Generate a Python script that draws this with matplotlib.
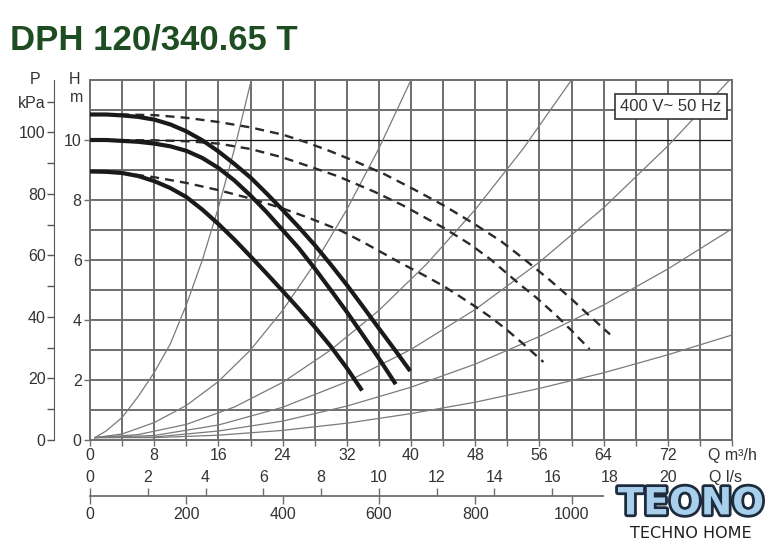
import matplotlib
matplotlib.use("Agg")
import matplotlib.pyplot as plt
import matplotlib.patheffects as pe

plt.rcParams['font.family'] = ['Liberation Sans', 'DejaVu Sans']

# pump curves, solid (Q m3/h, H m)
q_solid_hi = [0, 2, 4, 6, 8, 10, 12, 14, 16, 18, 20, 22, 24, 26, 28, 30, 32, 34, 36, 38, 39.9]
h_solid_hi = [10.85, 10.85, 10.82, 10.77, 10.68, 10.52, 10.29, 9.99, 9.62, 9.2, 8.75, 8.22, 7.67, 7.1, 6.5, 5.85, 5.17, 4.45, 3.72, 3.0, 2.3]
q_solid_mid = [0, 2, 4, 6, 8, 10, 12, 14, 16, 18, 20, 22, 24, 26, 28, 30, 32, 34, 36, 38.1]
h_solid_mid = [10.0, 10.0, 9.97, 9.94, 9.88, 9.79, 9.64, 9.4, 9.07, 8.65, 8.15, 7.6, 7.0, 6.4, 5.72, 5.0, 4.27, 3.5, 2.72, 1.86]
q_solid_lo = [0, 2, 4, 6, 8, 10, 12, 14, 16, 18, 20, 22, 24, 26, 28, 30, 32, 33.9]
h_solid_lo = [8.95, 8.94, 8.9, 8.8, 8.63, 8.4, 8.1, 7.68, 7.2, 6.68, 6.12, 5.55, 4.97, 4.38, 3.77, 3.12, 2.4, 1.65]

# pump curves, dashed
q_dash_hi = [0, 4, 8, 12, 16, 20, 24, 27, 30, 33.3, 36.7, 40.4, 44.2, 47.9, 51.25, 54, 57.3, 60, 62, 64.8]
h_dash_hi = [10.85, 10.85, 10.83, 10.74, 10.6, 10.42, 10.18, 9.92, 9.62, 9.26, 8.86, 8.35, 7.8, 7.2, 6.62, 6.05, 5.33, 4.7, 4.2, 3.52]
q_dash_mid = [0, 8, 12, 16, 20, 24, 27, 30.8, 35.4, 39, 44.2, 47.5, 50, 53.5, 55.6, 58.1, 60, 62.25]
h_dash_mid = [10.0, 9.99, 9.96, 9.88, 9.7, 9.42, 9.15, 8.8, 8.28, 7.82, 7.05, 6.5, 6.0, 5.2, 4.75, 4.15, 3.65, 3.03]
q_dash_lo = [0, 4, 8, 12, 16, 20, 24, 27.5, 31.25, 34, 36.7, 38.5, 41.7, 44, 46, 48, 50, 52, 54, 56.5]
h_dash_lo = [8.95, 8.9, 8.76, 8.57, 8.33, 8.05, 7.72, 7.38, 6.98, 6.6, 6.2, 5.93, 5.48, 5.14, 4.8, 4.45, 4.08, 3.66, 3.2, 2.6]

# system curves (thin grey)
sys_curves = [
    ([0.6, 2, 4, 6, 8, 10, 12, 14, 16, 18, 20.1],
     [0.08, 0.3, 0.75, 1.45, 2.25, 3.2, 4.5, 6.0, 7.75, 9.7, 12.0]),
    ([0.6, 4, 8, 12, 16, 20, 24, 28, 32, 36, 40],
     [0.08, 0.2, 0.58, 1.15, 1.95, 3.0, 4.32, 5.88, 7.68, 9.72, 12.0]),
    ([0.6, 6, 12, 18, 24, 30, 36, 42, 48, 54, 60],
     [0.08, 0.18, 0.52, 1.1, 1.92, 3.0, 4.32, 5.88, 7.68, 9.72, 12.0]),
    ([0.6, 8, 16, 24, 32, 40, 48, 56, 64, 72, 79.7],
     [0.08, 0.15, 0.5, 1.09, 1.94, 3.02, 4.35, 5.93, 7.74, 9.8, 12.0]),
    ([0.6, 8, 16, 24, 32, 40, 48, 56, 64, 72, 80],
     [0.08, 0.1, 0.3, 0.63, 1.13, 1.76, 2.53, 3.45, 4.5, 5.7, 7.04]),
    ([0.6, 8, 16, 24, 32, 40, 48, 56, 64, 72, 80],
     [0.08, 0.08, 0.16, 0.32, 0.56, 0.88, 1.26, 1.72, 2.24, 2.84, 3.5]),
]

q_ticks = list(range(0, 81, 4))
h_ticks = [0, 2, 4, 6, 8, 10]
p_ticks = list(range(0, 111, 10))
ls_ticks = list(range(0, 23, 2))
lmin_ticks = list(range(0, 1001, 200))

GRID = '#6e6e6e'
TXT = '#333333'
W, H = 780, 544


def fx(px):
    return px / W


def fy(py):
    return 1 - py / H


fig = plt.figure(figsize=(7.8, 5.44), dpi=100)
fig.patch.set_facecolor('white')

ax = fig.add_axes([fx(90), fy(440), 642 / W, 360 / H])
ax.set_xlim(0, 80)
ax.set_ylim(0, 12)

# grid
for q in q_ticks[1:-1]:
    ax.axvline(q, color=GRID, lw=1.4, zorder=1)
for h in range(1, 12):
    if h == 10:
        ax.axhline(h, color='#111111', lw=0.9, zorder=1)
    else:
        ax.axhline(h, color=GRID, lw=1.4, zorder=1)
for s in ax.spines.values():
    s.set_color(GRID)
    s.set_linewidth(1.4)

# system curves
for qs, hs in sys_curves:
    ax.plot(qs, hs, color='#7a7a7a', lw=0.9, zorder=2)

dash = (0, (3.8, 2.6))
ax.plot(q_dash_hi, h_dash_hi, color='#2a2a2a', lw=1.7, ls=dash, zorder=3)
ax.plot(q_dash_mid, h_dash_mid, color='#2a2a2a', lw=1.7, ls=dash, zorder=3)
ax.plot(q_dash_lo, h_dash_lo, color='#2a2a2a', lw=1.7, ls=dash, zorder=3)

ax.plot(q_solid_hi, h_solid_hi, color='#1a1a1a', lw=3.0, zorder=4, solid_capstyle='butt')
ax.plot(q_solid_mid, h_solid_mid, color='#1a1a1a', lw=3.0, zorder=4, solid_capstyle='butt')
ax.plot(q_solid_lo, h_solid_lo, color='#1a1a1a', lw=3.0, zorder=4, solid_capstyle='butt')

ax.set_xticks(q_ticks)
ax.set_xticklabels([('Q m³/h' if q == 80 else (str(q) if q % 8 == 0 else '')) for q in q_ticks])
ax.set_yticks(h_ticks)
ax.set_yticklabels([str(h) for h in h_ticks])
ax.tick_params(axis='both', direction='out', length=4, width=1, color=GRID,
               labelsize=11.5, labelcolor=TXT, pad=2)

ax.text(72.4, 11.13, '400 V~ 50 Hz', ha='center', va='center', fontsize=12, color=TXT,
        zorder=6, bbox=dict(boxstyle='square,pad=0.3', fc='white', ec='#333333', lw=1.2))

# pressure axis
axp = fig.add_axes([fx(54), fy(440), 0.0001, 360 / H])
axp.set_ylim(0, 12 * 9.75)
axp.patch.set_visible(False)
for k in ['right', 'top', 'bottom']:
    axp.spines[k].set_visible(False)
axp.spines['left'].set_color('#555555')
axp.set_xticks([])
axp.set_yticks(p_ticks)
axp.set_yticklabels([('kPa' if p == 110 else (str(p) if p % 20 == 0 else '')) for p in p_ticks])
axp.tick_params(axis='y', direction='out', length=5, width=1, color='#555555',
                labelsize=11.5, labelcolor=TXT, pad=1)

fig.text(fx(35), fy(80), 'P', ha='center', va='center', fontsize=11.5, color=TXT)
fig.text(fx(75), fy(80), 'H', ha='center', va='center', fontsize=11.5, color=TXT)
fig.text(fx(77), fy(98), 'm', ha='center', va='center', fontsize=11.5, color=TXT)

# flow axes: l/s above, l/min below
ax_ls = fig.add_axes([fx(90), fy(496), 642 / W, 0.0001])
ax_ls.set_xlim(0, 80 / 3.6)
ax_ls.patch.set_visible(False)
for k in ['left', 'right', 'bottom']:
    ax_ls.spines[k].set_visible(False)
ax_ls.spines['top'].set_color(GRID)
ax_ls.spines['top'].set_linewidth(1.3)
ax_ls.set_yticks([])
ax_ls.xaxis.tick_top()
ax_ls.set_xticks(ls_ticks)
ax_ls.set_xticklabels([('Q l/s' if v == 22 else str(v)) for v in ls_ticks])
ax_ls.tick_params(axis='x', direction='out', length=6, width=1, color=GRID,
                  labelsize=11.5, labelcolor=TXT, pad=2)

ax_lm = fig.add_axes([fx(90), fy(496), 642 / W, 0.0001])
ax_lm.set_xlim(0, 80 * 1000 / 60)
ax_lm.patch.set_visible(False)
for k in ['left', 'right', 'top', 'bottom']:
    ax_lm.spines[k].set_visible(False)
ax_lm.set_yticks([])
ax_lm.set_xticks(lmin_ticks)
ax_lm.set_xticklabels([str(v) for v in lmin_ticks])
ax_lm.tick_params(axis='x', direction='out', length=6, width=1, color=GRID,
                  labelsize=11.5, labelcolor=TXT, pad=2)

# title
fig.text(fx(10), fy(50), 'DPH 120/340.65 T', ha='left', va='baseline', fontsize=25,
         fontweight='bold', color='#1e4d22')

# logo
ax_logo = fig.add_axes([fx(604), fy(542), (778 - 604) / W, (542 - 485) / H], zorder=10)
ax_logo.set_facecolor('white')
ax_logo.set_xticks([])
ax_logo.set_yticks([])
for s in ax_logo.spines.values():
    s.set_visible(False)
ax_logo.text(0.5, 0.66, 'TEONO', ha='center', va='center', fontsize=27, fontweight='heavy',
             family='DejaVu Sans', color='#a8d0ec',
             path_effects=[pe.Stroke(linewidth=4, foreground='#1d2b3c'), pe.Normal()])
ax_logo.text(0.5, 0.15, 'TECHNO HOME', ha='center', va='center', fontsize=11.5,
             family='DejaVu Sans', color='#1f1f1f')

fig.savefig('out.png', dpi=100)
